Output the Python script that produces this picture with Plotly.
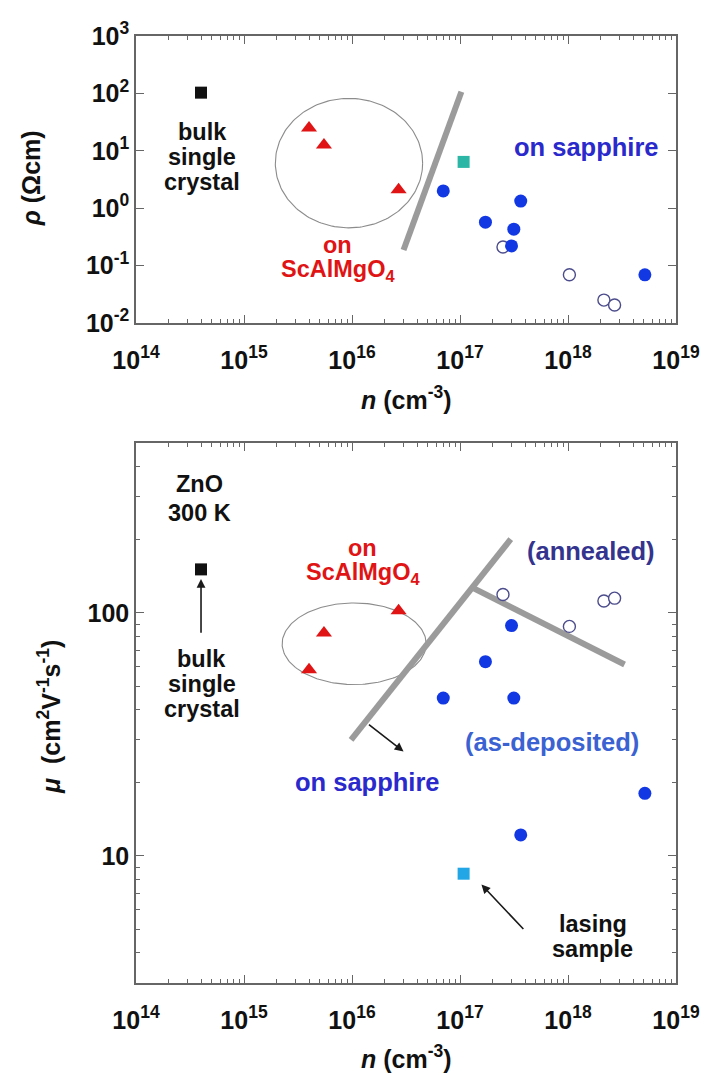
import numpy as np
import plotly.graph_objects as go

# ---- ZnO films at 300 K: carrier concentration n (cm^-3),
# ---- resistivity rho (Ohm cm) and Hall mobility mu (cm^2 V^-1 s^-1)
bulk_n = [4.0e14]
bulk_rho = [103]
bulk_mu = [151]

scam_n = [4.0e15, 5.5e15, 2.7e16]          # films on ScAlMgO4
scam_rho = [25, 12.6, 2.1]
scam_mu = [58.4, 82.7, 102]

laser_n = [1.08e17]                          # lasing sample
laser_rho = [6.4]
laser_mu = [8.45]

asdep_n = [7.0e16, 1.72e17, 3.0e17, 3.15e17, 3.65e17, 5.15e18]   # on sapphire, as-deposited
asdep_rho = [2.0, 0.57, 0.22, 0.43, 1.33, 0.069]
asdep_mu = [44.6, 63, 88.7, 44.6, 12.2, 18.1]

ann_n = [2.5e17, 1.03e18, 2.15e18, 2.7e18]  # on sapphire, annealed
ann_rho = [0.21, 0.069, 0.025, 0.0206]
ann_mu = [119, 88, 112, 115]

# guide lines separating the substrate groups
rho_div_n = [3.0e16, 1.03e17]
rho_div_rho = [0.187, 107]
mu_div_n = [9.8e15, 2.95e17]
mu_div_mu = [30, 201]
mu_ann_n = [1.3e17, 3.34e18]
mu_ann_mu = [127, 61.3]

# ellipses around the ScAlMgO4 group: centre and semi-axes in decades
rho_ell = [15.972, 0.785, 0.682, 1.128]
mu_ell = [16.02, 1.873, 0.667, 0.168]

x_decades = [14, 15, 16, 17, 18, 19]
rho_decades = [-2, -1, 0, 1, 2, 3]
mu_ticks = [10, 100]

FONT = "Liberation Sans, Arial, Helvetica, sans-serif"
BLUE = "#1238e4"
RED = "#e01414"
TEAL = "#2bb6a6"
SKY = "#22a6e6"
OPEN = "#4c4c8c"
GREY = "#9b9b9b"
FRAME = "#666666"


def log_ellipse(cx, cy, rx, ry, m=200):
    t = np.linspace(0, 2 * np.pi, m)
    return 10 ** (cx + rx * np.cos(t)), 10 ** (cy + ry * np.sin(t))


def minor_vals(lo, hi):
    return [k * 10.0 ** d for d in range(lo, hi) for k in range(2, 10)]


fig = go.Figure()

# ---------------- top panel: resistivity ----------------
ex, ey = log_ellipse(*rho_ell)
fig.add_trace(go.Scatter(x=ex, y=ey, mode="lines", line=dict(color="#8c8c8c", width=1.1),
                         xaxis="x2", yaxis="y2", hoverinfo="skip"))
fig.add_trace(go.Scatter(x=rho_div_n, y=rho_div_rho, mode="lines", line=dict(color=GREY, width=6),
                         xaxis="x2", yaxis="y2"))
fig.add_trace(go.Scatter(x=bulk_n, y=bulk_rho, mode="markers", xaxis="x2", yaxis="y2",
                         marker=dict(symbol="square", size=12, color="#111111")))
fig.add_trace(go.Scatter(x=scam_n, y=scam_rho, mode="markers", xaxis="x2", yaxis="y2",
                         marker=dict(symbol="triangle-up", size=14, color=RED)))
fig.add_trace(go.Scatter(x=laser_n, y=laser_rho, mode="markers", xaxis="x2", yaxis="y2",
                         marker=dict(symbol="square", size=12, color=TEAL)))
fig.add_trace(go.Scatter(x=ann_n, y=ann_rho, mode="markers", xaxis="x2", yaxis="y2",
                         marker=dict(symbol="circle", size=12, color="white",
                                     line=dict(color=OPEN, width=1.4))))
fig.add_trace(go.Scatter(x=asdep_n, y=asdep_rho, mode="markers", xaxis="x2", yaxis="y2",
                         marker=dict(symbol="circle", size=13, color=BLUE)))

# ---------------- bottom panel: mobility ----------------
ex, ey = log_ellipse(*mu_ell)
fig.add_trace(go.Scatter(x=ex, y=ey, mode="lines", line=dict(color="#8c8c8c", width=1.1),
                         hoverinfo="skip"))
fig.add_trace(go.Scatter(x=mu_div_n, y=mu_div_mu, mode="lines", line=dict(color=GREY, width=6)))
fig.add_trace(go.Scatter(x=mu_ann_n, y=mu_ann_mu, mode="lines", line=dict(color=GREY, width=6)))
fig.add_trace(go.Scatter(x=bulk_n, y=bulk_mu, mode="markers",
                         marker=dict(symbol="square", size=12, color="#111111")))
fig.add_trace(go.Scatter(x=scam_n, y=scam_mu, mode="markers",
                         marker=dict(symbol="triangle-up", size=14, color=RED)))
fig.add_trace(go.Scatter(x=laser_n, y=laser_mu, mode="markers",
                         marker=dict(symbol="square", size=12, color=SKY)))
fig.add_trace(go.Scatter(x=ann_n, y=ann_mu, mode="markers",
                         marker=dict(symbol="circle", size=12, color="white",
                                     line=dict(color=OPEN, width=1.4))))
fig.add_trace(go.Scatter(x=asdep_n, y=asdep_mu, mode="markers",
                         marker=dict(symbol="circle", size=13, color=BLUE)))

tickfont = dict(family=FONT, size=25, color="#111111", weight="bold")
axis_common = dict(type="log", showline=True, linecolor=FRAME, linewidth=1.5, mirror="ticks",
                   ticks="inside", ticklen=8, tickwidth=1, tickcolor=FRAME,
                   showgrid=False, zeroline=False, tickfont=tickfont)

x_text = ["10<sup>%d</sup>" % d for d in x_decades]
xaxis_common = dict(axis_common, range=[14, 19], tickmode="array",
                    tickvals=[10.0 ** d for d in x_decades], ticktext=x_text,
                    ticklabelstandoff=14,
                    minor=dict(ticks="inside", ticklen=4, tickcolor=FRAME, tickmode="array",
                               tickvals=minor_vals(14, 19), showgrid=False))

fig.update_layout(
    width=712, height=1075,
    margin=dict(l=136, r=30, t=36, b=92),
    paper_bgcolor="white", plot_bgcolor="white",
    showlegend=False,
    xaxis=dict(xaxis_common, anchor="y", domain=[0, 1]),
    yaxis=dict(axis_common, anchor="x", domain=[0, 0.5702], range=[np.log10(3), np.log10(500)],
               tickmode="array", tickvals=mu_ticks, ticktext=["10", "100"],
               minor=dict(ticks="inside", ticklen=4, tickcolor=FRAME, tickmode="array",
                          tickvals=[3, 4, 5, 6, 7, 8, 9, 20, 30, 40, 50, 60, 70, 80, 90,
                                    200, 300, 400, 500], showgrid=False)),
    xaxis2=dict(xaxis_common, anchor="y2", domain=[0, 1]),
    yaxis2=dict(axis_common, anchor="x2", domain=[0.697, 1], range=[-2, 3],
                tickmode="array", tickvals=[10.0 ** d for d in rho_decades],
                ticktext=["10<sup>%d</sup>" % d for d in rho_decades]),
)


def note(text, x, y, color="#111111", xr="x2", yr="y2", size=23.5, angle=0):
    return dict(text=text, x=x, y=y, xref=xr, yref=yr, showarrow=False, textangle=angle,
                font=dict(family=FONT, size=size, color=color, weight="bold"),
                xanchor="center", yanchor="middle")


def arrow(tail, head, xr="x", yr="y"):
    return dict(text="", x=np.log10(head[0]), y=np.log10(head[1]),
                ax=np.log10(tail[0]), ay=np.log10(tail[1]), xref=xr, yref=yr,
                axref=xr, ayref=yr, showarrow=True, arrowhead=2, arrowsize=1.1,
                arrowwidth=1.6, arrowcolor="#1a1a1a", standoff=0)


NAVY = "#2a2acc"
BIG = 25.5
annotations = [
    # top panel labels
    note("bulk", 14.614, 1.33), note("single", 14.614, 0.89), note("crystal", 14.614, 0.46),
    note("on", 15.87, -0.64, RED), note("ScAlMgO<sub>4</sub>", 15.87, -1.09, RED),
    note("on sapphire", 18.167, 1.066, NAVY, size=BIG),
    # bottom panel labels
    note("ZnO", 14.586, 2.531, xr="x", yr="y"), note("300 K", 14.586, 2.41, xr="x", yr="y"),
    note("on", 16.10, 2.269, RED, "x", "y"), note("ScAlMgO<sub>4</sub>", 16.10, 2.164, RED, "x", "y"),
    note("(annealed)", 18.212, 2.255, "#34348e", "x", "y", size=BIG),
    note("(as-deposited)", 17.853, 1.47, "#3a62d2", "x", "y", size=BIG),
    note("bulk", 14.61, 1.809, xr="x", yr="y"), note("single", 14.61, 1.706, xr="x", yr="y"),
    note("crystal", 14.61, 1.606, xr="x", yr="y"),
    note("on sapphire", 16.147, 1.305, NAVY, "x", "y", size=BIG),
    note("lasing", 18.228, 0.72, xr="x", yr="y"), note("sample", 18.228, 0.616, xr="x", yr="y"),
    # axis titles
    note("<i>n</i> (cm<sup>-3</sup>)", 0.5, 0.6177, xr="paper", yr="paper", size=25),
    note("<i>n</i> (cm<sup>-3</sup>)", 0.5, -0.0781, xr="paper", yr="paper", size=25),
    note("<i>ρ</i> (Ωcm)", -0.194, 0.850, xr="paper", yr="paper", size=25, angle=-90),
    note("<i>μ</i>  (cm<sup>2</sup>V<sup>-1</sup>s<sup>-1</sup>)", -0.161, 0.281,
         xr="paper", yr="paper", size=25, angle=-90),
    # arrows
    arrow((4.0e14, 81.6), (4.0e14, 138)),
    arrow((1.39e16, 35.1), (3.0e16, 26.9)),
    arrow((3.98e17, 4.93), (1.58e17, 7.62)),
]
fig.update_layout(annotations=annotations)

fig.write_html("out.html")
